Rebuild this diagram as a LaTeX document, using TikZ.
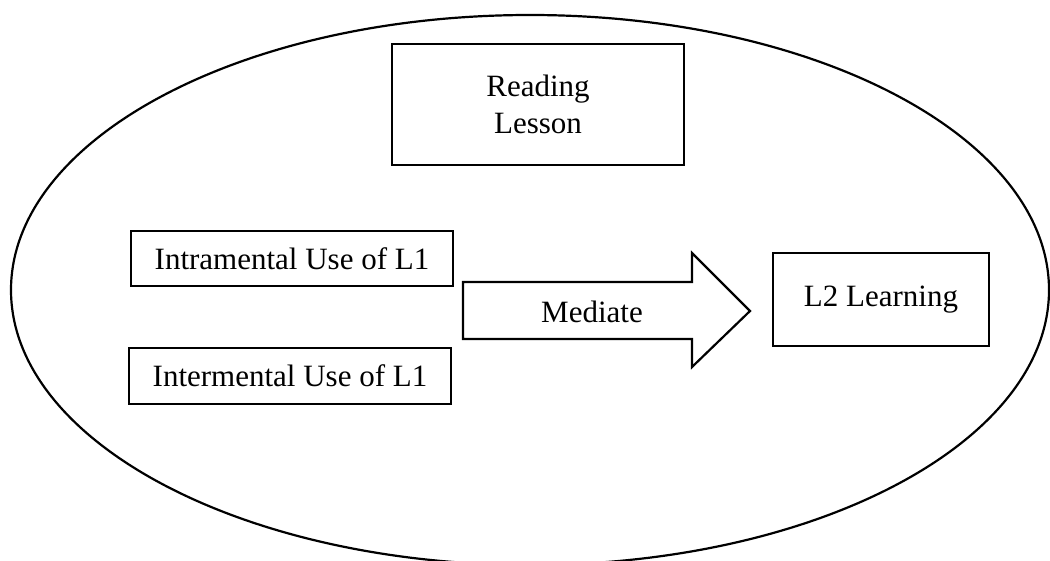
\documentclass[tikz,border=0pt]{standalone}
\usepackage{fontspec}
\setmainfont{Liberation Serif}
\usepackage{tikz}
\tikzstyle{every node}=[font=\fontsize{31}{37}\selectfont]
\tikzstyle{box}=[rectangle,
                 draw=black,
                 line width=2.2pt,
                 inner sep=0pt,
                 align=center
                 ]
\tikzstyle{outline}=[draw=black,
                     line width=2.2pt,
                     line join=miter
                     ]

\begin{document}
\begin{tikzpicture}[x=1pt,y=-1pt]
\useasboundingbox (0,0) rectangle (1050,561);
\clip (0,0) rectangle (1050,561);
\draw[outline] (530,290) ellipse [x radius=519, y radius=275];
\node (lesson) [box,minimum width=292pt,minimum height=121pt] at (538,104.5) {Reading\\Lesson};
\node (intra)  [box,minimum width=322pt,minimum height=55pt] at (292,258.5) {Intramental Use of L1};
\node (inter)  [box,minimum width=322pt,minimum height=56pt] at (290,376) {Intermental Use of L1};
\node (l2)     [box,minimum width=216pt,minimum height=93pt] at (881,299.5) {L2 Learning};
% block arrow
\draw[outline] (463,282) -- (692,282) -- (692,253) -- (750,311)
               -- (692,367) -- (692,339) -- (463,339) -- cycle;
\node (mediate) at (592,312) {Mediate};
\end{tikzpicture}
\end{document}
